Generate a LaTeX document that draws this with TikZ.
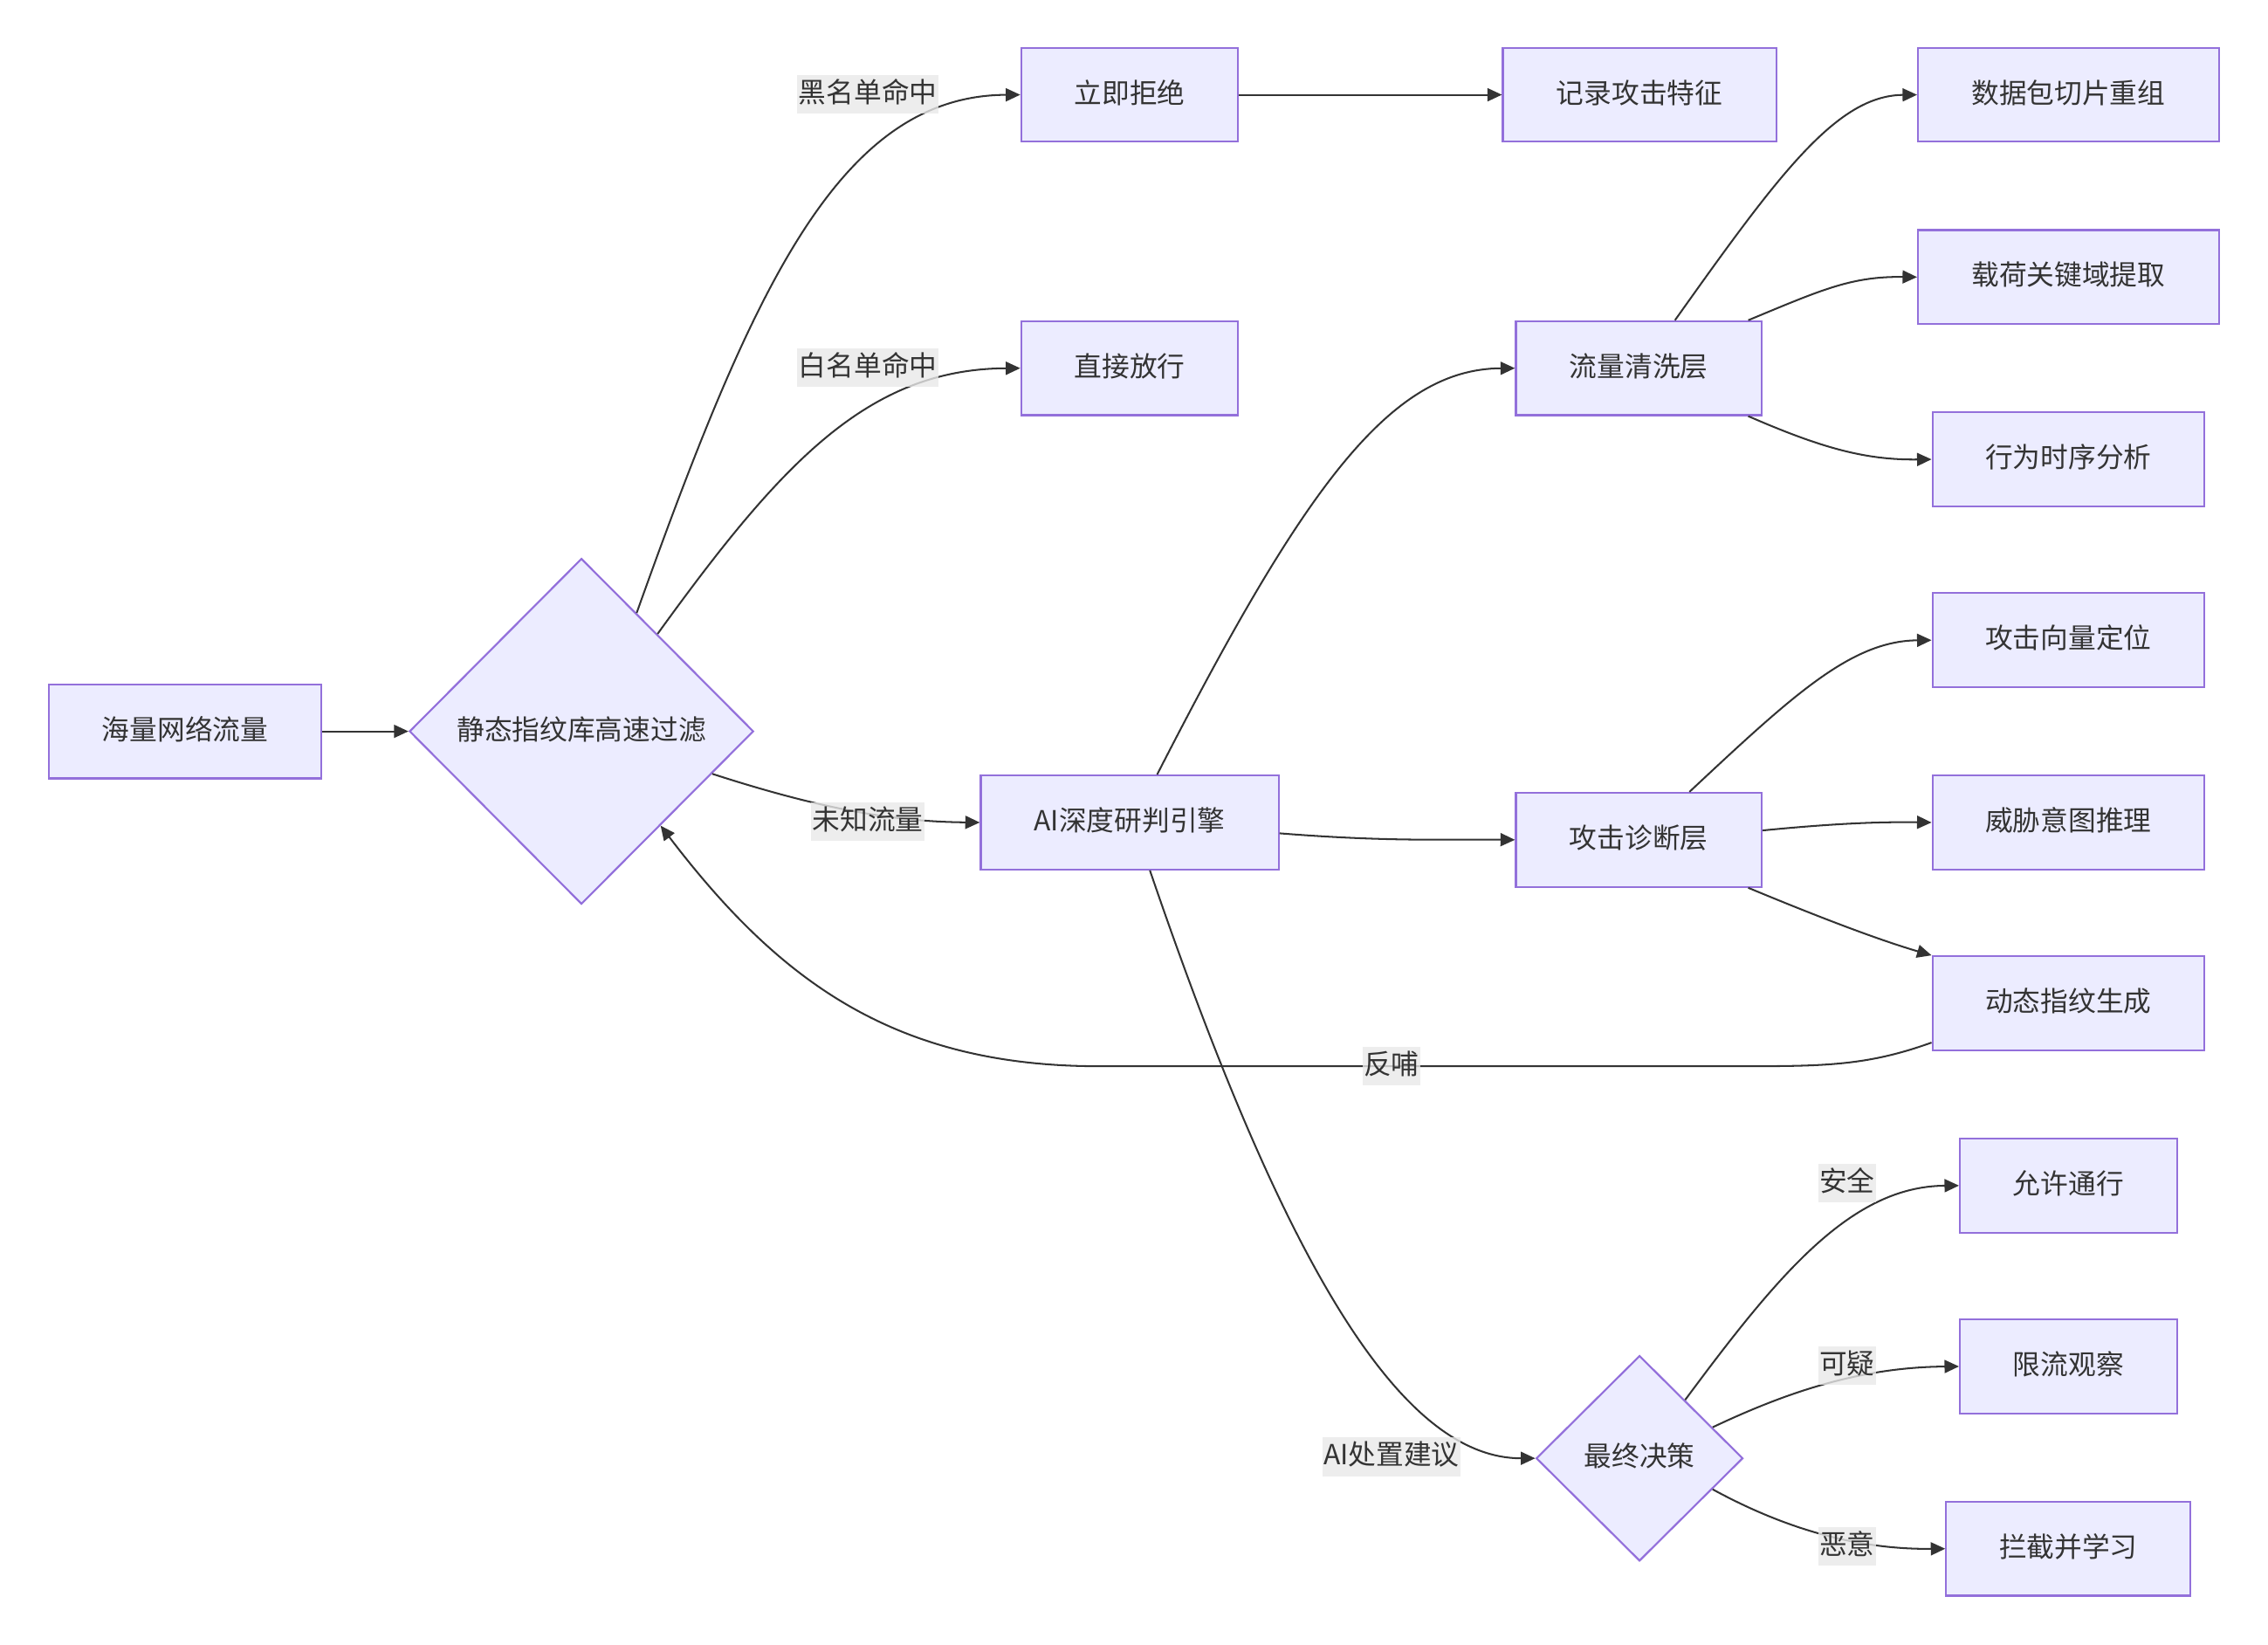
\documentclass[tikz,border=0pt]{standalone}
\usepackage{fontspec}
\setmainfont{Noto Sans CJK SC}
\usepackage{tikz}
\usetikzlibrary{arrows.meta, shapes.geometric}
\usetikzlibrary{calc}

\definecolor{nodefill}{HTML}{ECECFF}
\definecolor{nodeline}{HTML}{9370DB}
\definecolor{edgeline}{HTML}{333333}
\definecolor{labelfill}{HTML}{E8E8E8}

\tikzset{
  txt/.style={text=edgeline, font=\fontsize{10.9}{13}\selectfont, text height=0.8em, text depth=0.15em},
  box/.style={txt, rectangle, draw=nodeline, fill=nodefill, line width=0.75pt, minimum height=1.3cm},
  decision/.style={txt, diamond, aspect=1, draw=nodeline, fill=nodefill, line width=0.75pt, inner sep=0pt},
  edgelabel/.style={txt, fill=labelfill, fill opacity=0.8, text opacity=1, inner xsep=0.5pt, inner ysep=0.1cm},
  flow/.style={draw=edgeline, line width=0.7pt, -{Triangle[length=0.2cm, width=0.18cm]}}
}

\begin{document}
\begin{tikzpicture}[x=0.02cm, y=-0.02cm]
        \useasboundingbox (0, 0) rectangle (1568, 1137);

        % nodes
        \node[box, minimum width=3.76cm] (A) at (128, 505.5) {海量网络流量};
        \node[decision, minimum width=4.76cm, minimum height=4.78cm] (B) at (402, 505.5) {静态指纹库高速过滤};
        \node[box, minimum width=3cm] (C) at (781, 65.5) {立即拒绝};
        \node[box, minimum width=3cm] (D) at (781, 254.5) {直接放行};
        \node[box, minimum width=4.12cm] (E) at (781, 568.5) {AI深度研判引擎};
        \node[box, minimum width=3.78cm] (F) at (1133.5, 65.5) {记录攻击特征};
        \node[box, minimum width=3.4cm] (G) at (1133, 254.5) {流量清洗层};
        \node[box, minimum width=3.4cm] (H) at (1133, 580.5) {攻击诊断层};
        \node[decision, minimum width=2.86cm, minimum height=2.84cm] (I) at (1133.5, 1008) {最终决策};
        \node[box, minimum width=4.16cm] (J) at (1430, 65.5) {数据包切片重组};
        \node[box, minimum width=4.16cm] (K) at (1430, 191.5) {载荷关键域提取};
        \node[box, minimum width=3.76cm] (L) at (1430, 317.5) {行为时序分析};
        \node[box, minimum width=3.76cm] (M) at (1430, 442.5) {攻击向量定位};
        \node[box, minimum width=3.76cm] (N) at (1430, 568.5) {威胁意图推理};
        \node[box, minimum width=3.76cm] (O) at (1430, 693.5) {动态指纹生成};
        \node[box, minimum width=3cm] (P) at (1430, 819.5) {允许通行};
        \node[box, minimum width=3cm] (Q) at (1430, 944.5) {限流观察};
        \node[box, minimum width=3.38cm] (R) at (1430, 1070.5) {拦截并学习};

        % edges
        \draw[flow] (A.east) -- (B.west);
        \draw[flow] (B.65) .. controls (520, 200) and (580, 66) .. (C.west);
        \draw[flow] (B.52) .. controls (540, 320) and (600, 255) .. (D.west);
        \draw[flow] (B.-18) .. controls (570, 560) and (620, 568) .. (E.west);
        \draw[flow] (C.east) -- (F.west);
        \draw[flow] ($(E.north)+(19, 0)$) .. controls (900, 340) and (960, 255) .. (G.west);
        \draw[flow] ($(E.east)+(0, 7.5)$) .. controls (960, 582) and (1000, 580) .. (H.west);
        \draw[flow] ($(E.south)+(14, 0)$) .. controls (890, 880) and (970, 1008) .. (I.west);
        \draw[flow] ($(G.north)+(25, 0)$) .. controls (1230, 120) and (1270, 66) .. (J.west);
        \draw[flow] ($(G.north east)+(-10, 0)$) .. controls (1260, 200) and (1280, 191) .. (K.west);
        \draw[flow] ($(G.south east)+(-10, 0)$) .. controls (1260, 310) and (1290, 318) .. (L.west);
        \draw[flow] ($(H.north)+(35, 0)$) .. controls (1240, 480) and (1280, 443) .. (M.west);
        \draw[flow] ($(H.east)+(0, -6.5)$) .. controls (1270, 569) and (1300, 568) .. (N.west);
        \draw[flow] ($(H.south east)+(-10, 0)$) .. controls (1260, 635) and (1300, 650) .. (O.north west);
        \draw[flow] ($(O.south west)+(0, -6)$) .. controls (1290, 737) and (1260, 737) .. (1200, 737)
            -- (760, 737) .. controls (620, 737) and (540, 680) .. (B.-50);
        \draw[flow] (I.52) .. controls (1230, 880) and (1280, 820) .. (P.west);
        \draw[flow] (I.23) .. controls (1240, 960) and (1290, 945) .. (Q.west);
        \draw[flow] (I.-23) .. controls (1240, 1060) and (1290, 1071) .. (R.west);

        % edge labels
        \node[edgelabel] (lC) at (600, 65) {黑名单命中};
        \node[edgelabel] (lD) at (600, 254) {白名单命中};
        \node[edgelabel] (lE) at (600, 568) {未知流量};
        \node[edgelabel] (lB) at (962, 737) {反哺};
        \node[edgelabel] (lI) at (962, 1007) {AI处置建议};
        \node[edgelabel] (lP) at (1277, 818) {安全};
        \node[edgelabel] (lQ) at (1277, 944) {可疑};
        \node[edgelabel] (lR) at (1277, 1069) {恶意};
    \end{tikzpicture}
\end{document}
